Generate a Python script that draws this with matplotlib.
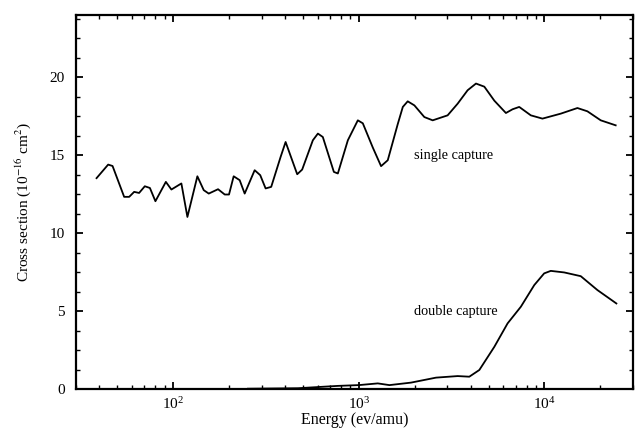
import numpy as np
import matplotlib
matplotlib.use("Agg")
import matplotlib.pyplot as plt
from matplotlib.ticker import MultipleLocator, LogLocator


plt.rcParams['font.family'] = ['Liberation Serif', 'DejaVu Serif']
plt.rcParams['mathtext.fontset'] = 'stix'

# single capture
single_e = [38.7, 44.7, 47.2, 54.5, 58.0, 61.7, 65.6, 70.4, 75.0, 80.3,
            91.4, 97.9, 110.8, 119.4, 135.1, 146.2, 155.6, 174.6, 189.7, 200.0,
            211.9, 228.3, 242.9, 274.9, 294.6, 314.9, 337.5, 379.2, 403.5, 465.9,
            495.5, 565.7, 602.2, 640.1, 734.1, 771.3, 873, 988, 1051, 1189,
            1318, 1432, 1621, 1726, 1834, 1992, 2254, 2500, 3008, 3407,
            3855, 4276, 4742, 5370, 6197, 6730, 7310, 8440, 9750, 12240,
            15040, 17020, 20090, 24170]
single_cs = [13.53, 14.40, 14.31, 12.33, 12.33, 12.65, 12.58, 13.01, 12.90, 12.05,
             13.29, 12.80, 13.19, 11.04, 13.65, 12.76, 12.54, 12.82, 12.48, 12.48,
             13.65, 13.40, 12.54, 14.04, 13.72, 12.87, 12.97, 14.89, 15.85, 13.78,
             14.08, 15.96, 16.39, 16.17, 13.93, 13.83, 15.96, 17.24, 17.05, 15.5,
             14.3, 14.68, 17.0, 18.1, 18.46, 18.2, 17.45, 17.24, 17.56, 18.31,
             19.17, 19.6, 19.4, 18.5, 17.71, 17.95, 18.10, 17.56, 17.35, 17.67,
             18.03, 17.82, 17.24, 16.92]

# double capture
double_e = [253, 470, 771, 1000, 1265, 1462, 1910, 2605, 3407, 3936,
            4457, 5370, 6327, 7460, 8810, 9960, 10810, 12770, 15680, 19270, 24380]
double_cs = [0.02, 0.05, 0.2, 0.25, 0.36, 0.25, 0.41, 0.73, 0.83, 0.79,
             1.22, 2.71, 4.21, 5.28, 6.67, 7.42, 7.58, 7.48, 7.24, 6.35, 5.49]

fig = plt.figure(figsize=(6.35, 4.33), dpi=100)
ax = fig.add_axes([0.1197, 0.1016, 0.8773, 0.8638])

ax.plot(single_e, single_cs, color='black', lw=1.3)
ax.plot(double_e, double_cs, color='black', lw=1.3)

ax.set_xscale('log')
ax.set_xlim(30, 30000)
ax.set_ylim(0, 24)

ax.yaxis.set_major_locator(MultipleLocator(5))
ax.yaxis.set_minor_locator(MultipleLocator(1.25))
ax.xaxis.set_major_locator(LogLocator(base=10, numticks=10))
ax.xaxis.set_minor_locator(LogLocator(base=10, subs=np.arange(2, 10), numticks=10))

ax.tick_params(which='both', direction='in', top=True, right=True, labelsize=11)
ax.tick_params(which='major', length=5, width=1.3)
ax.tick_params(which='minor', length=3, width=1.0)
ax.tick_params(axis='y', pad=8)
ax.tick_params(axis='x', pad=5)
for s in ax.spines.values():
    s.set_linewidth(1.6)

ax.set_xlabel('Energy (ev/amu)', fontsize=11.5, labelpad=0)
ax.set_ylabel('Cross section (10$^{-16}$ cm$^{2}$)', fontsize=11, labelpad=12)

ax.text(1990, 15.0, 'single capture', fontsize=10.3, va='center')
ax.text(1990, 4.95, 'double capture', fontsize=10.3, va='center')

fig.savefig('out.png', dpi=100)
